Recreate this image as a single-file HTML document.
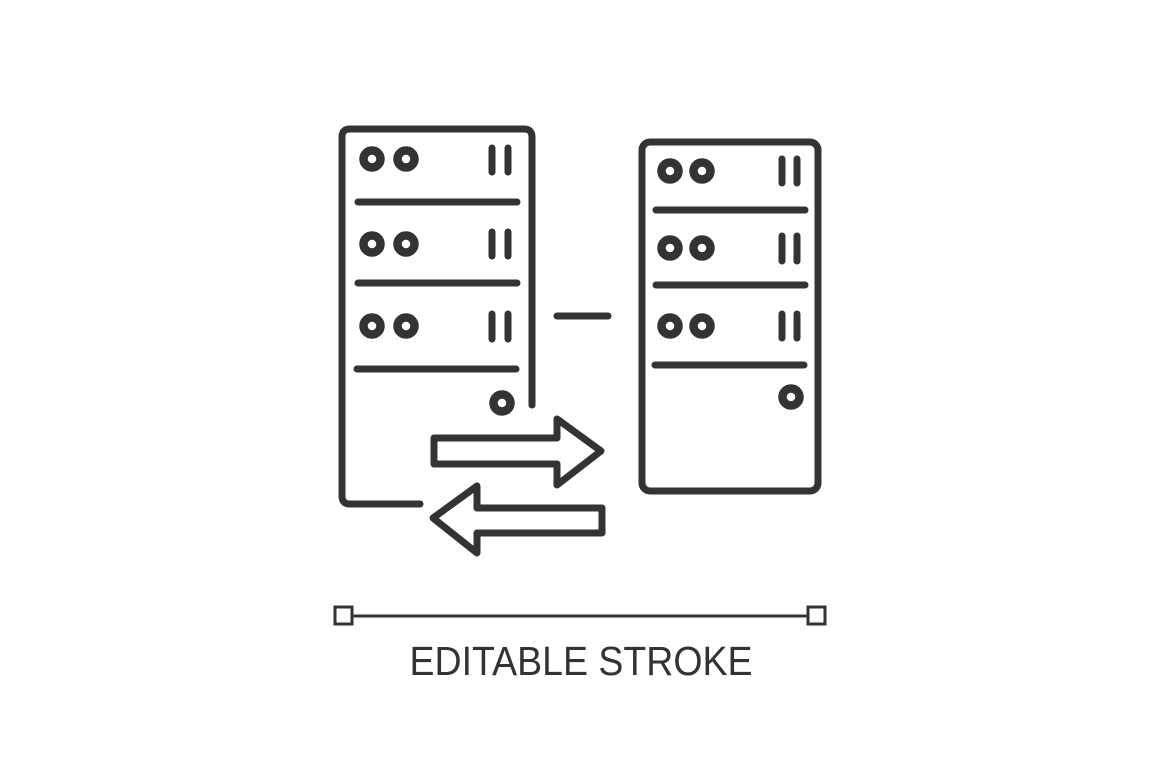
<!DOCTYPE html>
<html><head><meta charset="utf-8"><style>html,body{margin:0;padding:0;background:#fff;width:1160px;height:772px;overflow:hidden}</style></head>
<body>
<svg width="1160" height="772" viewBox="0 0 1160 772" xmlns="http://www.w3.org/2000/svg">
<g fill="none" stroke="#333" stroke-width="7" stroke-linecap="round" stroke-linejoin="round">
<!-- left server -->
<path d="M420,504 H350 Q342,504 342,496 V137 Q342,129 350,129 H524 Q532,129 532,137 V405"/>
<g stroke-width="8.5">
<circle cx="372" cy="159" r="8.5"/><circle cx="406" cy="159" r="8.5"/>
<circle cx="372" cy="244" r="8.5"/><circle cx="406" cy="244" r="8.5"/>
<circle cx="372" cy="326" r="8.5"/><circle cx="406" cy="326" r="8.5"/>
<circle cx="502" cy="403" r="8.5"/>
<circle cx="670" cy="171" r="8.5"/><circle cx="702" cy="171" r="8.5"/>
<circle cx="670" cy="248" r="8.5"/><circle cx="702" cy="248" r="8.5"/>
<circle cx="670" cy="326" r="8.5"/><circle cx="702" cy="326" r="8.5"/>
<circle cx="791" cy="397" r="8.5"/>
</g>
<path d="M492,148V172 M508,148V172 M492,232V256 M508,232V256 M492,314V339 M508,314V339"/>
<path d="M358,202H517 M358,283H517 M357,369H516"/>
<path d="M557,316H608"/>
<!-- arrows -->
<path d="M434,438H557V419L601,451L557,485V464H434Z"/>
<path d="M602,508H477V486L433,518L477,553V533H602Z"/>
<!-- right server -->
<rect x="642" y="142" width="176" height="349" rx="8"/>
<path d="M782,159V183 M797,159V183 M782,236V261 M797,236V261 M782,314V338 M797,314V338"/>
<path d="M656,210H805 M656,285H805 M655,365H804"/>
</g>
<g fill="#fff" stroke="#333" stroke-width="3">
<line x1="351" y1="616" x2="809" y2="616"/>
<rect x="335" y="607" width="17" height="17"/>
<rect x="808" y="607" width="17" height="17"/>
</g>
<text x="581" y="675" text-anchor="middle" font-family="Liberation Sans, sans-serif" font-size="41" fill="#333" textLength="343" lengthAdjust="spacingAndGlyphs">EDITABLE STROKE</text>
</svg>
</body></html>
